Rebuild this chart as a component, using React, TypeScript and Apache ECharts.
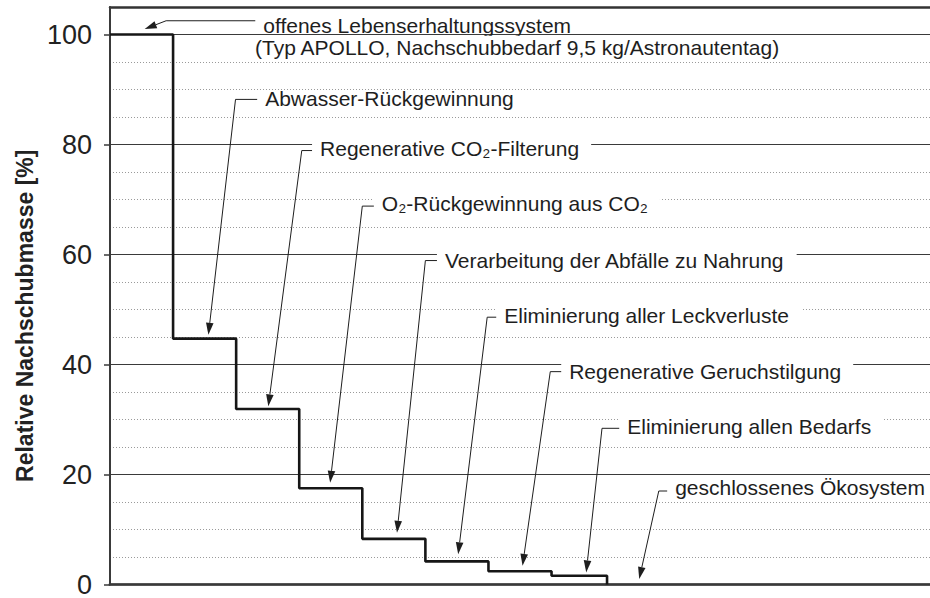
import React, { useEffect, useRef } from "react";
import * as echarts from "echarts";

// ---- data ----
const STEP_X = [0, 1, 2, 3, 4, 5, 6, 7, 7.88];
const STEP_Y = [100, 44.7, 31.9, 17.5, 8.3, 4.2, 2.4, 1.6, 0];
const Y_TICKS = [0, 20, 40, 60, 80, 100];
const Y_AXIS_NAME = "Relative Nachschubmasse [%]";

const LABELS = [
  "offenes Lebenserhaltungssystem",
  "Abwasser-Rückgewinnung",
  "Regenerative CO₂-Filterung",
  "O₂-Rückgewinnung aus CO₂",
  "Verarbeitung der Abfälle zu Nahrung",
  "Eliminierung aller Leckverluste",
  "Regenerative Geruchstilgung",
  "Eliminierung allen Bedarfs",
  "geschlossenes Ökosystem",
];
const LABEL_SUBLINE = "(Typ APOLLO, Nachschubbedarf 9,5 kg/Astronautentag)";

// annotation anchors, in data units
const TIP_X = [0.55, 1.56, 2.51, 3.49, 4.55, 5.52, 6.54, 7.55, 8.39];
const TIP_Y = [101.0, 45.4, 32.4, 18.5, 9.4, 5.5, 3.4, 2.2, 1.0];
const ELBOW_X = [0.89, 1.99, 3.04, 4.0, 5.0, 5.98, 6.98, 7.8, 8.7];
const ELBOW_Y = [102.5, 88.2, 78.9, 68.8, 58.9, 48.6, 38.7, 28.4, 17.0];
const LABEL_X = [2.43, 2.46, 3.33, 4.31, 5.31, 6.25, 7.28, 8.2, 8.96];
const LABEL_Y = [101.6, 88.3, 79.2, 69.3, 59.0, 48.9, 38.8, 28.7, 17.6];
const SUBLINE_X = 2.3;
const SUBLINE_Y = 97.7;

const FONT = "'Liberation Sans', Arial, Helvetica, sans-serif";
const INK = "#1e1e1e";

export default function App() {
  const ref = useRef<HTMLDivElement>(null);

  useEffect(() => {
    document.body.style.margin = "0";
    if (!ref.current) return;
    const chart = echarts.init(ref.current, undefined, { renderer: "svg" });

    const textEl = (text: string, x: number, y: number, pad: number[]) => ({
      type: "text",
      z2: 1,
      style: {
        text,
        x: x - pad[3],
        y,
        fill: INK,
        fontSize: 21,
        fontFamily: FONT,
        align: "left",
        verticalAlign: "middle",
        lineHeight: 16,
        backgroundColor: "#ffffff",
        padding: pad,
      },
    });

    const renderItem = (params: any, api: any) => {
      const i = params.dataIndex;
      const tip = api.coord([TIP_X[i], TIP_Y[i]]);
      const elbow = api.coord([ELBOW_X[i], ELBOW_Y[i]]);
      const lab = api.coord([LABEL_X[i], LABEL_Y[i]]);
      const children: any[] = [];
      children.push(textEl(LABELS[i], lab[0], lab[1], [0, 12, 0, 8]));
      if (i === 0) {
        const sub = api.coord([SUBLINE_X, SUBLINE_Y]);
        children.push(textEl(LABEL_SUBLINE, sub[0], sub[1], [6, 12, 1, 10]));
      }
      const dx = tip[0] - elbow[0];
      const dy = tip[1] - elbow[1];
      const len = Math.sqrt(dx * dx + dy * dy) || 1;
      const ux = dx / len;
      const uy = dy / len;
      const headL = 12;
      const headW = 3.8;
      const base = [tip[0] - ux * headL, tip[1] - uy * headL];
      const nx = -uy * headW;
      const ny = ux * headW;
      children.push({
        type: "polyline",
        z2: 10,
        shape: { points: [[lab[0] - 8, elbow[1]], elbow, base] },
        style: { stroke: INK, lineWidth: 1, fill: "none" },
      });
      children.push({
        type: "polygon",
        z2: 10,
        shape: {
          points: [
            tip,
            [base[0] + nx, base[1] + ny],
            [base[0] - nx, base[1] - ny],
          ],
        },
        style: { fill: INK },
      });
      return { type: "group", children };
    };

    chart.setOption({
      animation: false,
      grid: { left: 110, right: 0, top: 7, bottom: 11, containLabel: false },
      xAxis: [
        {
          type: "value",
          min: 0,
          max: 13,
          position: "bottom",
          axisLine: { show: true, onZero: false, lineStyle: { color: "#555", width: 3 } },
          axisTick: { show: false },
          axisLabel: { show: false },
          splitLine: { show: false },
        },
        {
          type: "value",
          min: 0,
          max: 13,
          position: "top",
          axisLine: { show: true, onZero: false, lineStyle: { color: "#333", width: 2.5 } },
          axisTick: { show: false },
          axisLabel: { show: false },
          splitLine: { show: false },
        },
      ],
      yAxis: [
        {
          type: "value",
          min: 0,
          max: 105,
          interval: 20,
          position: "left",
          z: 1,
          axisLine: { show: true, lineStyle: { color: "#3a3a3a", width: 2 } },
          axisTick: {
            show: true,
            inside: false,
            length: 6,
            customValues: Y_TICKS,
            lineStyle: { color: "#3a3a3a", width: 1.5 },
          },
          axisLabel: {
            customValues: Y_TICKS,
            formatter: (v: number) => (v % 20 === 0 ? String(v) : ""),
            margin: 18,
            fontSize: 27,
            color: "#222",
            fontFamily: FONT,
          },
          splitLine: { show: true, lineStyle: { color: "#3a3a3a", width: 1.2 } },
          name: Y_AXIS_NAME,
          nameLocation: "middle",
          nameGap: 72,
          nameRotate: 90,
          nameTextStyle: {
            fontSize: 23,
            fontWeight: "bold",
            color: "#222",
            fontFamily: FONT,
            padding: [0, 40, 0, 0],
          },
        },
        {
          type: "value",
          min: 0,
          max: 105,
          interval: 5,
          position: "left",
          axisLine: { show: false },
          axisTick: { show: false },
          axisLabel: { show: false },
          splitLine: { show: true, lineStyle: { color: "#9a9a9a", width: 1, type: [1, 2] } },
        },
      ],
      series: [
        {
          type: "line",
          xAxisIndex: 0,
          yAxisIndex: 0,
          step: "end",
          symbol: "none",
          z: 2,
          lineStyle: { color: "#161616", width: 2.6 },
          data: STEP_X.map((x, i) => [x, STEP_Y[i]]),
        },
        {
          type: "custom",
          xAxisIndex: 0,
          yAxisIndex: 0,
          clip: false,
          silent: true,
          z: 3,
          renderItem,
          data: TIP_X.map((x, i) => [x, TIP_Y[i]]),
        },
      ],
    });

    return () => chart.dispose();
  }, []);

  return <div ref={ref} style={{ width: 930, height: 598 }} />;
}
